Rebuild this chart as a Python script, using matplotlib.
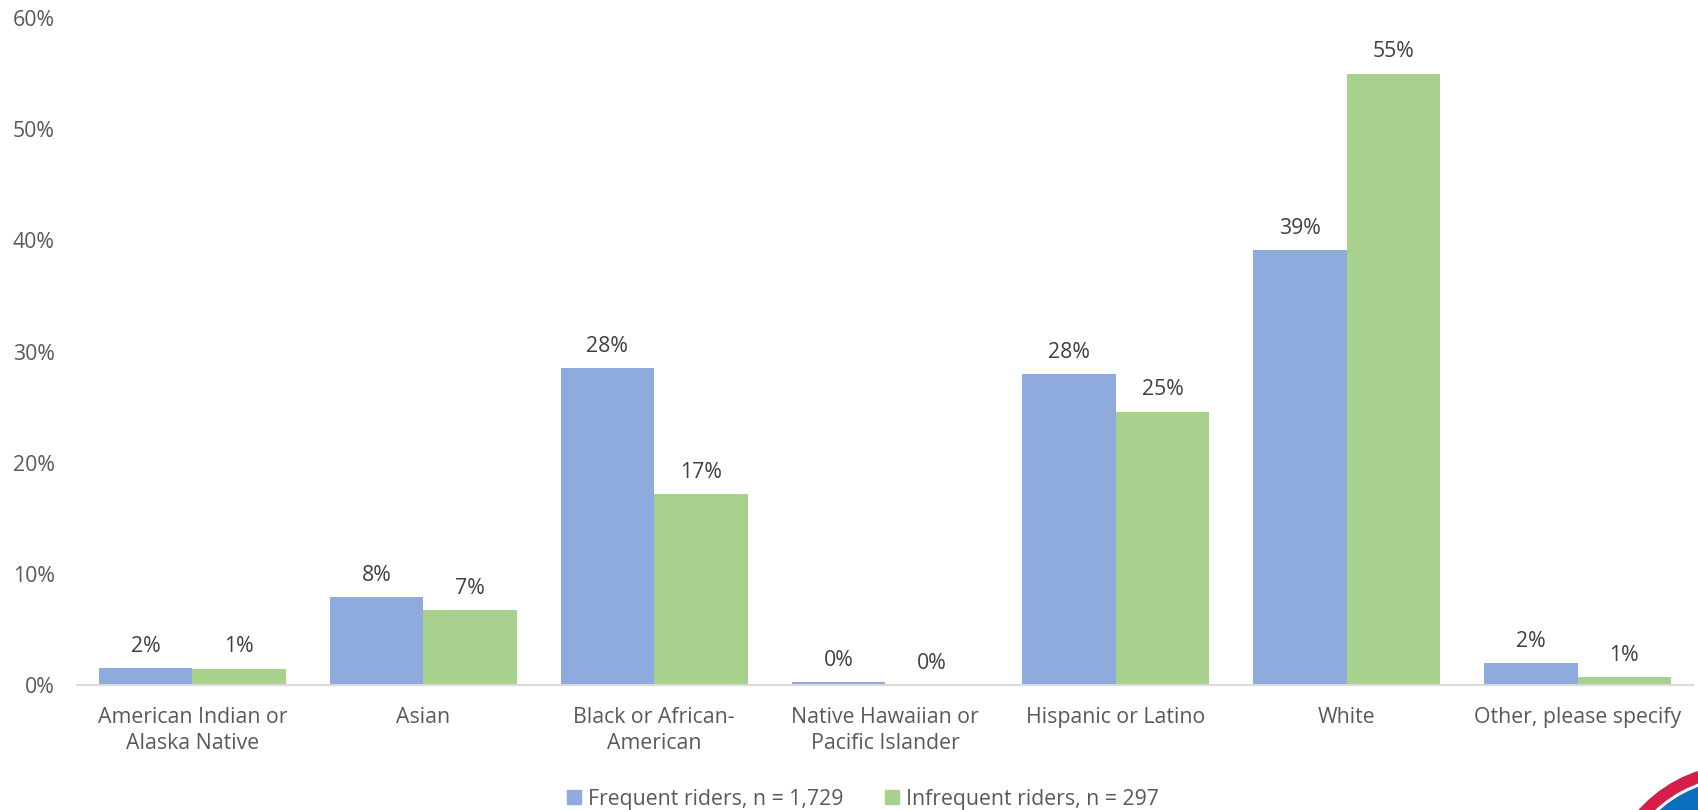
import numpy as np
import matplotlib
matplotlib.use("Agg")
import matplotlib.pyplot as plt
import matplotlib.patches as mpatches

# race / ethnicity of riders, share of respondents (%)
categorias = ["American Indian or\nAlaska Native", "Asian", "Black or African-\nAmerican",
              "Native Hawaiian or\nPacific Islander", "Hispanic or Latino", "White",
              "Other, please specify"]
frequentes = [1.52, 7.94, 28.5, 0.3, 28.0, 39.1, 1.95]
infrequentes = [1.48, 6.74, 17.2, 0.0, 24.6, 55.0, 0.7]
rotulos = ["Frequent riders, n = 1,729", "Infrequent riders, n = 297"]

plt.rcParams['font.family'] = ['Open Sans', 'DejaVu Sans']
cor_azul = '#8FAADC'
cor_verde = '#A9D18E'
cor_texto = '#595959'
fs = 15.3

fig = plt.figure(figsize=(16.98, 8.10), dpi=100)
ax = fig.add_axes([77/1698, 1 - 685/810, (1693 - 77)/1698, (685 - 18)/810])

x = np.arange(len(categorias))
w = 0.405
b1 = ax.bar(x - w/2, frequentes, w, color=cor_azul, label=rotulos[0])
b2 = ax.bar(x + w/2, infrequentes, w, color=cor_verde, label=rotulos[1])

for barras in (b1, b2):
    for bar in barras:
        v = bar.get_height()
        ax.annotate(f'{v:.0f}%', (bar.get_x() + bar.get_width()/2, v),
                    xytext=(0, 8), textcoords='offset points',
                    ha='center', va='bottom', fontsize=fs, color='#404040')

ax.set_xlim(-0.5, len(categorias) - 0.5)
ax.set_ylim(0, 60)
ax.set_yticks(np.arange(0, 61, 10))
ax.set_yticklabels([f'{t}%' for t in range(0, 61, 10)])
ax.set_xticks(x)
ax.set_xticklabels(categorias, linespacing=1.3)
ax.tick_params(axis='both', length=0, labelsize=fs, colors=cor_texto)
ax.tick_params(axis='x', pad=16)
ax.tick_params(axis='y', pad=16)

for s in ['top', 'right', 'left']:
    ax.spines[s].set_visible(False)
ax.spines['bottom'].set_color('#D9D9D9')
ax.spines['bottom'].set_linewidth(1.5)

fig.legend(handles=[mpatches.Patch(color=cor_azul, label=rotulos[0]),
                    mpatches.Patch(color=cor_verde, label=rotulos[1])],
           loc='center', bbox_to_anchor=(863/1698, 1 - 799/810), ncol=2,
           frameon=False, fontsize=fs, labelcolor=cor_texto,
           handlelength=0.65, handleheight=0.65, handletextpad=0.3, columnspacing=2.0)

# logo no canto inferior direito
logo = fig.add_axes([0, 0, 1, 1], zorder=-1)
logo.set_xlim(0, 1698)
logo.set_ylim(810, 0)
logo.axis('off')
logo.add_patch(mpatches.Circle((1740, 900), 135, color='#D41F4B'))
logo.add_patch(mpatches.Circle((1740, 900), 123, color='white'))
logo.add_patch(mpatches.Circle((1740, 900), 120, color='#0B6FBF'))

plt.savefig('out.png', dpi=100)
